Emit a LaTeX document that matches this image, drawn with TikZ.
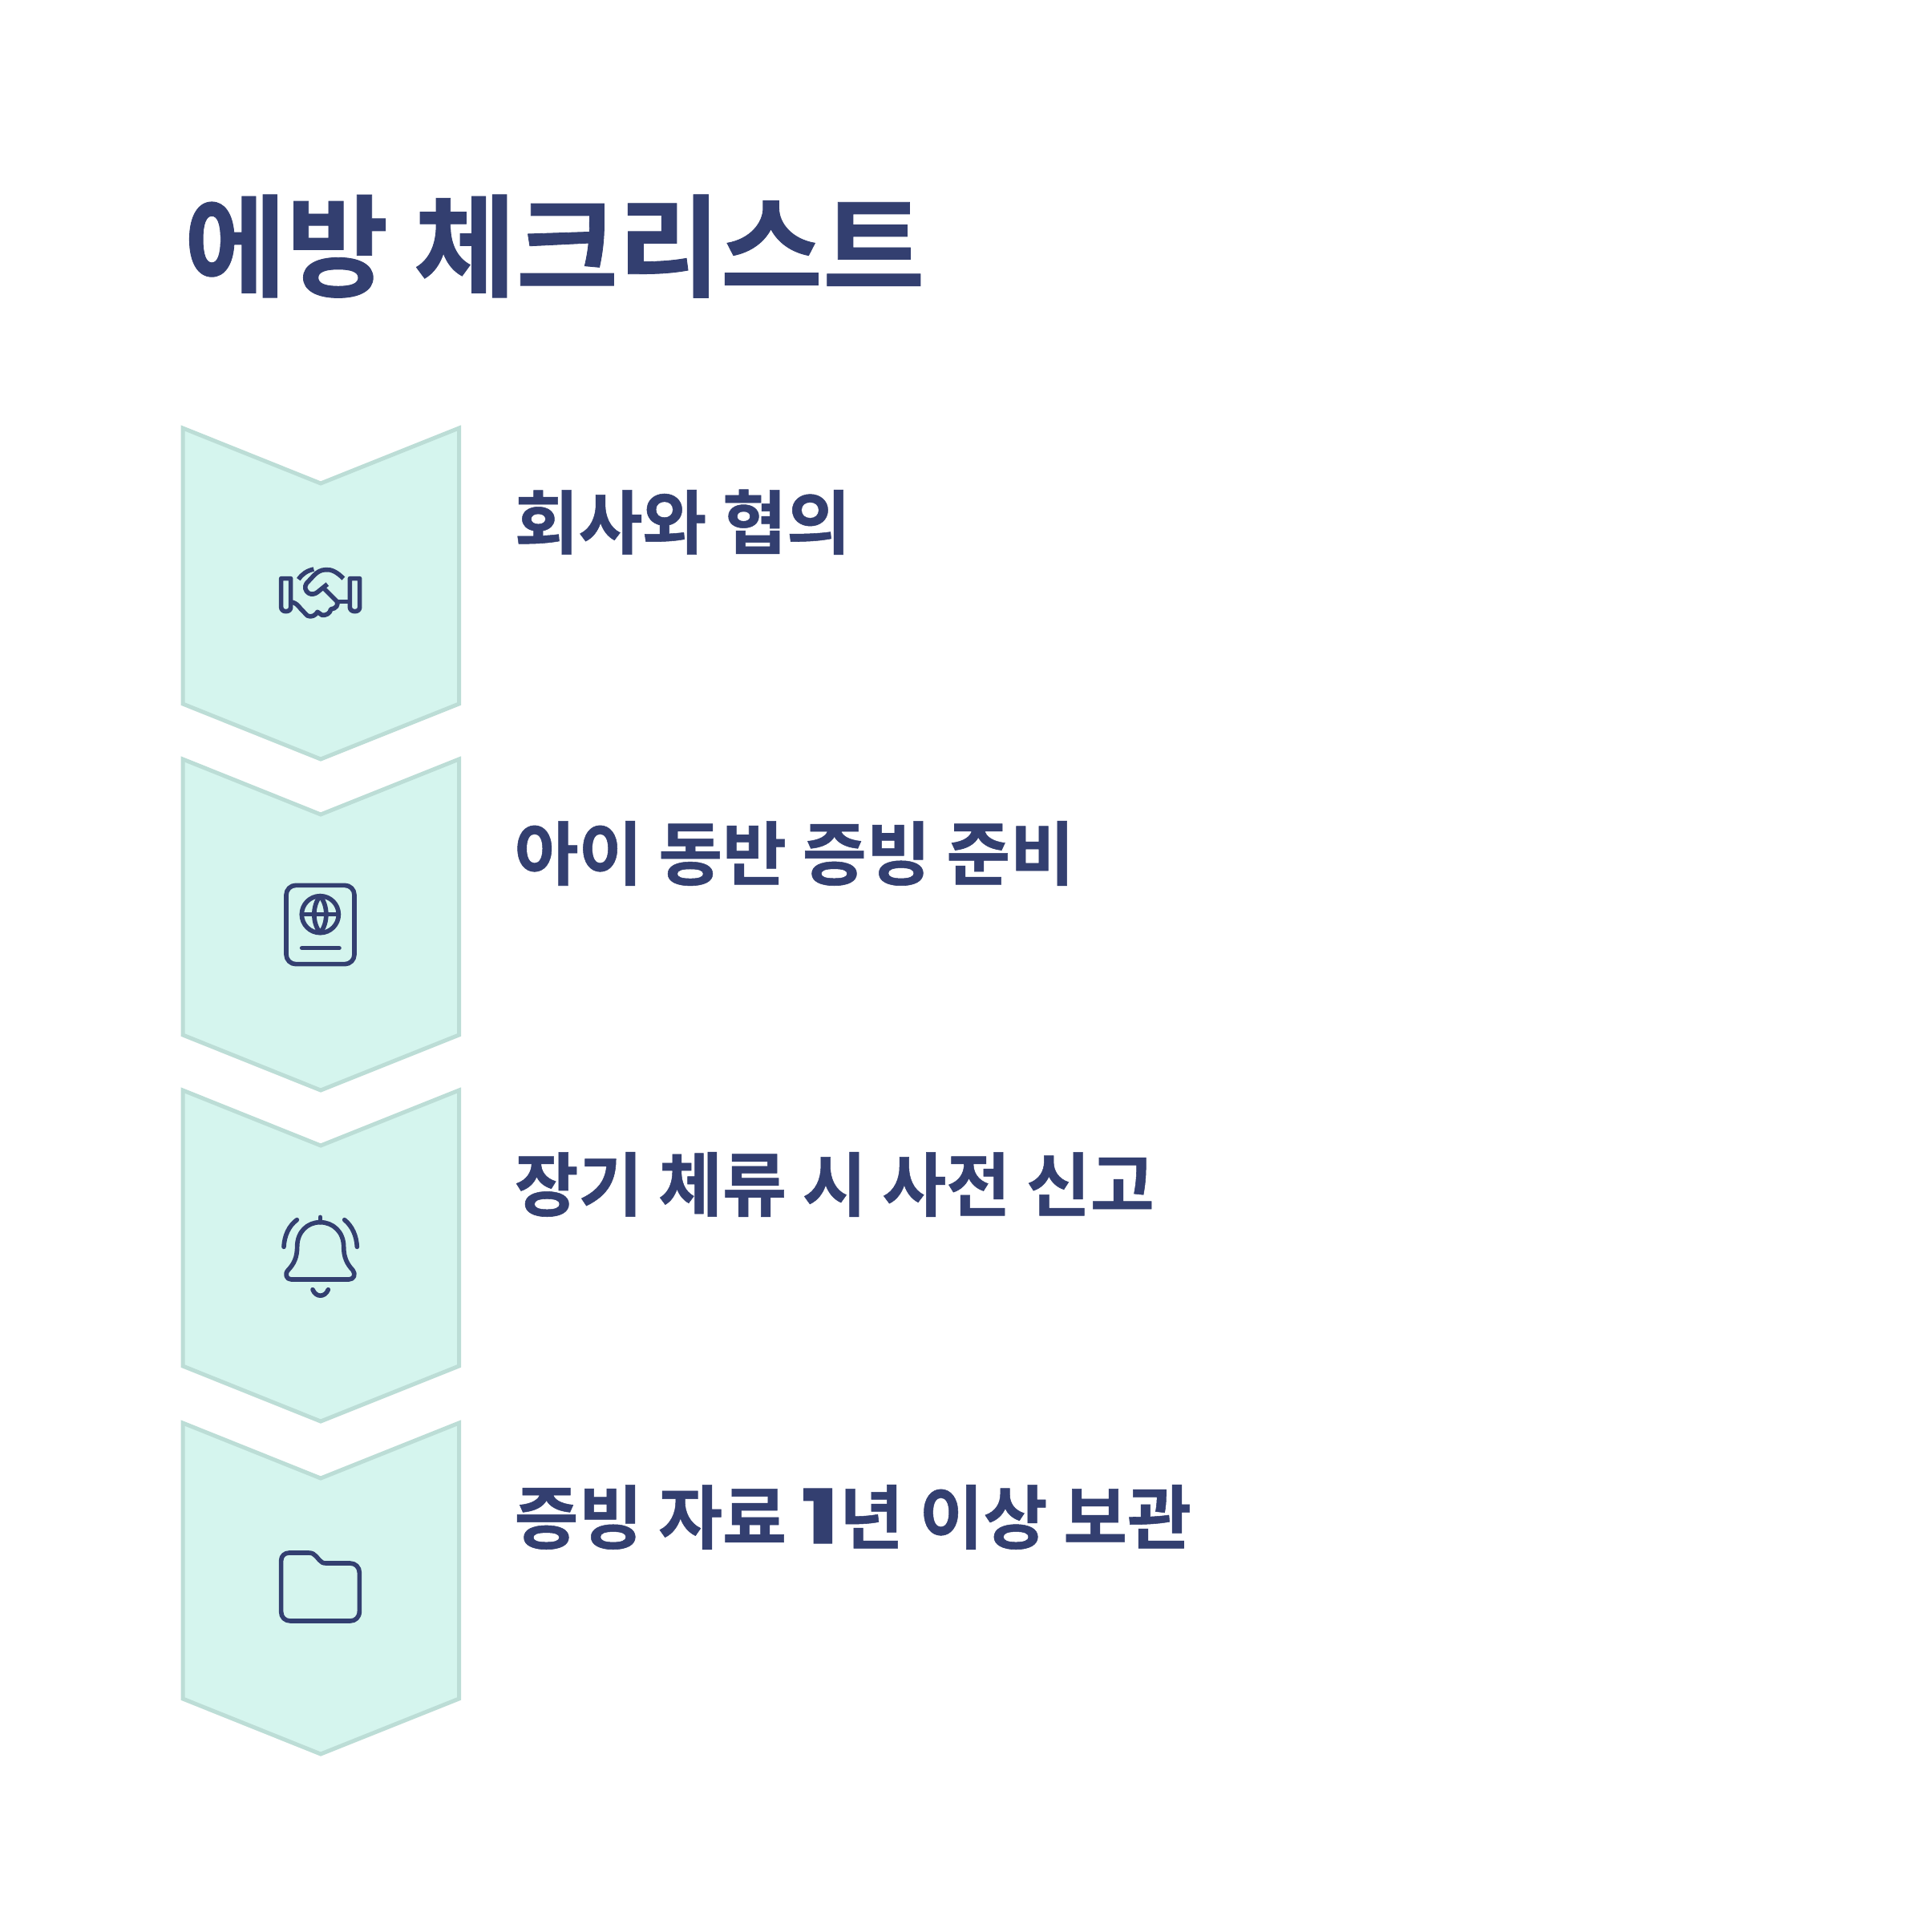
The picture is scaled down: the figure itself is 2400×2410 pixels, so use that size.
\documentclass[tikz,border=0pt]{standalone}
\usepackage{fontspec}
\setmainfont[FakeBold=0.6]{Noto Sans CJK KR Bold}
\newfontfamily\digitfont[FakeBold=1.2,FakeStretch=1.35]{Poppins Bold}
\definecolor{chevfill}{HTML}{D5F5EE}
\definecolor{chevline}{HTML}{BCDDD6}
\definecolor{ink}{HTML}{333F70}
\tikzset{
  chevron/.style={fill=chevfill,draw=chevline,line width=1.42pt,line join=miter},
  icon/.style={draw=ink,line width=1.6pt,line cap=round,line join=round},
  titletext/.style={anchor=base west,inner sep=0pt,text=ink,font=\fontsize{39.4}{40}\selectfont},
  steptext/.style={anchor=base west,inner sep=0pt,text=ink,font=\fontsize{24.7}{25}\selectfont},
}
\begin{document}
\begin{tikzpicture}[x=0.01cm,y=-0.01cm]
\useasboundingbox (0,0) rectangle (2400,2410);
\fill[white] (0,0) rectangle (2400,2410);
\foreach \t in {534,947,1360,1775}{
  \draw[chevron] (228,\t) -- (400,\t+69) -- (572.5,\t) -- (572.5,\t+344) -- (400,\t+413) -- (228,\t+344) -- cycle;
}
\node[titletext] (title) at (229,359) {에방 체크리스트};
\node[steptext] (s1) at (641,684) {회사와 협의};
\node[steptext] (s2) at (641,1097) {아이 동반 증빙 준비};
\node[steptext] (s3) at (641,1510) {장기 체류 시 사전 신고};
\node[steptext] (s4) at (641,1925) {증빙 자료 \kern-0.4pt{\digitfont\fontsize{26.5}{27}\selectfont 1}\kern0.1pt 년 이상 보관};
% handshake
\begin{scope}[shift={(320,680)},x=0.01cm/3,y=-0.01cm/3]
\draw[icon] (92,125) -- (128,125) -- (128,232) .. controls (128,242) and (120,248) .. (110,248) .. controls (100,248) and (92,242) .. (92,232) -- cycle;
\draw[icon] (349,125) -- (386,125) -- (386,232) .. controls (386,242) and (378,248) .. (368,248) .. controls (358,248) and (349,242) .. (349,232) -- cycle;
\draw[icon,line cap=butt] (157,128) .. controls (170,108) and (190,95) .. (214,90);
\draw[icon,line cap=butt] (325,125) .. controls (300,100) and (280,90) .. (258,92) .. controls (240,93) and (228,100) .. (215,113) -- (187,143) .. controls (178,155) and (182,172) .. (195,180) .. controls (205,186) and (218,184) .. (228,176) -- (265,146);
\draw[icon] (250,160) -- (300,210) .. controls (308,222) and (298,238) .. (278,240) .. controls (276,256) and (258,264) .. (245,262) -- (228,250) .. controls (222,262) and (205,272) .. (190,264) -- (165,238) .. controls (155,225) and (148,218) .. (135,214);
\draw[icon] (305,212) -- (345,212);
\end{scope}
% passport
\begin{scope}[shift={(330,1090)},x=0.01cm/3,y=-0.01cm/3]
\draw[icon,rounded corners=3.4pt] (81,43) rectangle (336,338);
\draw[icon] (208,152) circle[x radius=69,y radius=69];
\draw[icon] (208,83) .. controls (178,120) and (178,184) .. (208,221) .. controls (238,184) and (238,120) .. (208,83);
\draw[icon] (139,152) -- (277,152);
\draw[icon] (140,278) -- (279,278);
\end{scope}
% bell
\begin{scope}[shift={(330,1500)},x=0.01cm/3,y=-0.01cm/3]
\draw[icon] (208,55) -- (208,74);
\draw[icon] (122,165) .. controls (122,110) and (160,74) .. (208,74) .. controls (256,74) and (296,110) .. (296,165) .. controls (296,205) and (308,230) .. (330,253) .. controls (342,268) and (335,288) .. (315,288) -- (100,288) .. controls (82,288) and (74,268) .. (88,253) .. controls (110,230) and (122,205) .. (122,165) -- cycle;
\draw[icon] (72,166) .. controls (74,125) and (90,88) .. (121,65);
\draw[icon] (346,166) .. controls (344,125) and (328,88) .. (299,65);
\draw[icon] (180,326) .. controls (192,356) and (226,356) .. (238,326);
\end{scope}
% folder
\begin{scope}[shift={(330,1920)},x=0.01cm/3,y=-0.01cm/3]
\draw[icon] (92,51) -- (165,51) .. controls (178,51) and (186,56) .. (193,64) -- (205,78) .. controls (212,86) and (218,90) .. (230,90) -- (320,90) .. controls (340,90) and (355,105) .. (355,125) -- (355,270) .. controls (355,292) and (340,306) .. (320,306) -- (97,306) .. controls (76,306) and (62,292) .. (62,272) -- (62,80) .. controls (62,62) and (76,51) .. (92,51) -- cycle;
\end{scope}
\end{tikzpicture}
\end{document}
